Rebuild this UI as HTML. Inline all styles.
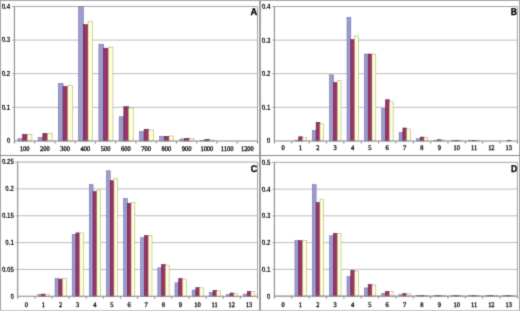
<!DOCTYPE html>
<html><head><meta charset="utf-8"><style>
html,body{margin:0;padding:0;background:#fff;width:520px;height:311px;overflow:hidden}
svg{display:block} text{text-rendering:geometricPrecision}
.yl{font-family:"Liberation Sans",sans-serif;font-size:7.7px;font-weight:bold;fill:#000;text-anchor:end;stroke:#000;stroke-width:0.0px}
.xl{font-family:"Liberation Serif",serif;font-size:7.0px;fill:#000;text-anchor:middle;stroke:#000;stroke-width:0.3px}
.lt{font-family:"Liberation Sans",sans-serif;font-size:9.8px;font-weight:bold;fill:#000;text-anchor:end;stroke:#000;stroke-width:0.3px}
</style></head><body>
<svg width="520" height="311" viewBox="0 0 520 311">
<defs><filter id="bl" x="0" y="0" width="100%" height="100%" filterUnits="userSpaceOnUse" color-interpolation-filters="sRGB"><feConvolveMatrix order="3" kernelMatrix="0.0196 0.1008 0.0196 0.1008 0.5184 0.1008 0.0196 0.1008 0.0196" divisor="1" edgeMode="duplicate"/></filter></defs><g filter="url(#bl)">
<rect x="0" y="0" width="520" height="311" fill="#fff"/>
<path d="M11.92 107.32H257.5M11.92 73.7H257.5M11.92 40.07H257.5" stroke="#bcbcbc" stroke-width="1" fill="none"/>
<path d="M11.92 6.45H257.5V140.95" stroke="#a4a4a4" stroke-width="1" fill="none"/>
<text transform="translate(10.2 143.35) scale(0.8 1)" class="yl">0</text>
<text transform="translate(10.2 109.72) scale(0.8 1)" class="yl">0.1</text>
<text transform="translate(10.2 76.1) scale(0.8 1)" class="yl">0.2</text>
<text transform="translate(10.2 42.47) scale(0.8 1)" class="yl">0.3</text>
<text transform="translate(10.2 8.85) scale(0.8 1)" class="yl">0.4</text>
<rect x="17.88" y="138.76" width="4.68" height="2.19" fill="#9c9cd2" stroke="#6a6aa0" stroke-width="0.55"/>
<rect x="22.56" y="134.39" width="4.68" height="6.56" fill="#9b3366" stroke="#5a1d3a" stroke-width="0.55"/>
<rect x="27.24" y="134.56" width="4.68" height="6.39" fill="#ffffd0" stroke="#a8a890" stroke-width="0.55"/>
<rect x="38.14" y="137.58" width="4.68" height="3.37" fill="#9c9cd2" stroke="#6a6aa0" stroke-width="0.55"/>
<rect x="42.82" y="133.38" width="4.68" height="7.57" fill="#9b3366" stroke="#5a1d3a" stroke-width="0.55"/>
<rect x="47.49" y="133.38" width="4.68" height="7.57" fill="#ffffd0" stroke="#a8a890" stroke-width="0.55"/>
<rect x="58.39" y="83.51" width="4.68" height="57.43" fill="#9c9cd2" stroke="#6a6aa0" stroke-width="0.55"/>
<rect x="63.07" y="86.54" width="4.68" height="54.41" fill="#9b3366" stroke="#5a1d3a" stroke-width="0.55"/>
<rect x="67.75" y="85.53" width="4.68" height="55.42" fill="#ffffd0" stroke="#a8a890" stroke-width="0.55"/>
<rect x="78.65" y="6.85" width="4.68" height="134.1" fill="#9c9cd2" stroke="#6a6aa0" stroke-width="0.55"/>
<rect x="83.33" y="24.67" width="4.68" height="116.28" fill="#9b3366" stroke="#5a1d3a" stroke-width="0.55"/>
<rect x="88.01" y="21.31" width="4.68" height="119.64" fill="#ffffd0" stroke="#a8a890" stroke-width="0.55"/>
<rect x="98.91" y="44.17" width="4.68" height="96.78" fill="#9c9cd2" stroke="#6a6aa0" stroke-width="0.55"/>
<rect x="103.59" y="48.21" width="4.68" height="92.74" fill="#9b3366" stroke="#5a1d3a" stroke-width="0.55"/>
<rect x="108.26" y="47.2" width="4.68" height="93.75" fill="#ffffd0" stroke="#a8a890" stroke-width="0.55"/>
<rect x="119.16" y="116.8" width="4.68" height="24.15" fill="#9c9cd2" stroke="#6a6aa0" stroke-width="0.55"/>
<rect x="123.84" y="106.72" width="4.68" height="34.23" fill="#9b3366" stroke="#5a1d3a" stroke-width="0.55"/>
<rect x="128.52" y="108.06" width="4.68" height="32.89" fill="#ffffd0" stroke="#a8a890" stroke-width="0.55"/>
<rect x="139.42" y="131.6" width="4.68" height="9.35" fill="#9c9cd2" stroke="#6a6aa0" stroke-width="0.55"/>
<rect x="144.1" y="129.25" width="4.68" height="11.7" fill="#9b3366" stroke="#5a1d3a" stroke-width="0.55"/>
<rect x="148.78" y="129.92" width="4.68" height="11.03" fill="#ffffd0" stroke="#a8a890" stroke-width="0.55"/>
<rect x="159.68" y="136.31" width="4.68" height="4.64" fill="#9c9cd2" stroke="#6a6aa0" stroke-width="0.55"/>
<rect x="164.36" y="136.31" width="4.68" height="4.64" fill="#9b3366" stroke="#5a1d3a" stroke-width="0.55"/>
<rect x="169.03" y="135.97" width="4.68" height="4.98" fill="#ffffd0" stroke="#a8a890" stroke-width="0.55"/>
<rect x="179.93" y="139" width="4.68" height="1.95" fill="#9c9cd2" stroke="#6a6aa0" stroke-width="0.55"/>
<rect x="184.61" y="138.32" width="4.68" height="2.63" fill="#9b3366" stroke="#5a1d3a" stroke-width="0.55"/>
<rect x="189.29" y="138.66" width="4.68" height="2.29" fill="#ffffd0" stroke="#a8a890" stroke-width="0.55"/>
<rect x="200.19" y="140.34" width="4.68" height="0.61" fill="#9c9cd2" stroke="#6a6aa0" stroke-width="0.55"/>
<rect x="204.87" y="139.33" width="4.68" height="1.62" fill="#9b3366" stroke="#5a1d3a" stroke-width="0.55"/>
<rect x="209.55" y="140" width="4.68" height="0.94" fill="#ffffd0" stroke="#a8a890" stroke-width="0.55"/>
<path d="M14.42 6.45V140.95H257.5M14.42 140.95v2.5M34.68 140.95v2.5M54.93 140.95v2.5M75.19 140.95v2.5M95.45 140.95v2.5M115.7 140.95v2.5M135.96 140.95v2.5M156.22 140.95v2.5M176.47 140.95v2.5M196.73 140.95v2.5M216.99 140.95v2.5M237.24 140.95v2.5M257.5 140.95v2.5" stroke="#8a8a8a" stroke-width="1.1" fill="none"/>
<text transform="translate(24.55 150.6) scale(0.92 1)" class="xl">100</text>
<text transform="translate(44.8 150.6) scale(0.92 1)" class="xl">200</text>
<text transform="translate(65.06 150.6) scale(0.92 1)" class="xl">300</text>
<text transform="translate(85.32 150.6) scale(0.92 1)" class="xl">400</text>
<text transform="translate(105.58 150.6) scale(0.92 1)" class="xl">500</text>
<text transform="translate(125.83 150.6) scale(0.92 1)" class="xl">600</text>
<text transform="translate(146.09 150.6) scale(0.92 1)" class="xl">700</text>
<text transform="translate(166.34 150.6) scale(0.92 1)" class="xl">800</text>
<text transform="translate(186.6 150.6) scale(0.92 1)" class="xl">900</text>
<text transform="translate(206.86 150.6) scale(0.92 1)" class="xl">1000</text>
<text transform="translate(227.12 150.6) scale(0.92 1)" class="xl">1100</text>
<text transform="translate(247.37 150.6) scale(0.92 1)" class="xl">1200</text>
<text transform="translate(257.1 15.2) scale(0.95 1)" class="lt">A</text>
<path d="M271.92 107.34H517.4M271.92 73.72H517.4M271.92 40.11H517.4" stroke="#bcbcbc" stroke-width="1" fill="none"/>
<path d="M271.92 6.5H517.4V140.95" stroke="#a4a4a4" stroke-width="1" fill="none"/>
<text transform="translate(270.3 143.35) scale(0.8 1)" class="yl">0</text>
<text transform="translate(270.3 109.74) scale(0.8 1)" class="yl">0.1</text>
<text transform="translate(270.3 76.12) scale(0.8 1)" class="yl">0.2</text>
<text transform="translate(270.3 42.51) scale(0.8 1)" class="yl">0.3</text>
<text transform="translate(270.3 8.9) scale(0.8 1)" class="yl">0.4</text>
<rect x="294.95" y="140.11" width="3.8" height="0.84" fill="#9c9cd2" stroke="#6a6aa0" stroke-width="0.55"/>
<rect x="298.75" y="136.74" width="3.8" height="4.21" fill="#9b3366" stroke="#5a1d3a" stroke-width="0.55"/>
<rect x="302.55" y="137.42" width="3.8" height="3.53" fill="#ffffd0" stroke="#a8a890" stroke-width="0.55"/>
<rect x="312.31" y="130.69" width="3.8" height="10.26" fill="#9c9cd2" stroke="#6a6aa0" stroke-width="0.55"/>
<rect x="316.11" y="122.29" width="3.8" height="18.66" fill="#9b3366" stroke="#5a1d3a" stroke-width="0.55"/>
<rect x="319.91" y="123.97" width="3.8" height="16.98" fill="#ffffd0" stroke="#a8a890" stroke-width="0.55"/>
<rect x="329.66" y="74.9" width="3.8" height="66.05" fill="#9c9cd2" stroke="#6a6aa0" stroke-width="0.55"/>
<rect x="333.46" y="82.63" width="3.8" height="58.32" fill="#9b3366" stroke="#5a1d3a" stroke-width="0.55"/>
<rect x="337.27" y="80.61" width="3.8" height="60.34" fill="#ffffd0" stroke="#a8a890" stroke-width="0.55"/>
<rect x="347.02" y="17.42" width="3.8" height="123.53" fill="#9c9cd2" stroke="#6a6aa0" stroke-width="0.55"/>
<rect x="350.82" y="39.6" width="3.8" height="101.35" fill="#9b3366" stroke="#5a1d3a" stroke-width="0.55"/>
<rect x="354.62" y="35.91" width="3.8" height="105.04" fill="#ffffd0" stroke="#a8a890" stroke-width="0.55"/>
<rect x="364.38" y="54.06" width="3.8" height="86.89" fill="#9c9cd2" stroke="#6a6aa0" stroke-width="0.55"/>
<rect x="368.18" y="54.06" width="3.8" height="86.89" fill="#9b3366" stroke="#5a1d3a" stroke-width="0.55"/>
<rect x="371.98" y="54.06" width="3.8" height="86.89" fill="#ffffd0" stroke="#a8a890" stroke-width="0.55"/>
<rect x="381.73" y="108.51" width="3.8" height="32.44" fill="#9c9cd2" stroke="#6a6aa0" stroke-width="0.55"/>
<rect x="385.53" y="99.77" width="3.8" height="41.18" fill="#9b3366" stroke="#5a1d3a" stroke-width="0.55"/>
<rect x="389.33" y="101.79" width="3.8" height="39.16" fill="#ffffd0" stroke="#a8a890" stroke-width="0.55"/>
<rect x="399.09" y="132.71" width="3.8" height="8.24" fill="#9c9cd2" stroke="#6a6aa0" stroke-width="0.55"/>
<rect x="402.89" y="128" width="3.8" height="12.94" fill="#9b3366" stroke="#5a1d3a" stroke-width="0.55"/>
<rect x="406.69" y="129.01" width="3.8" height="11.94" fill="#ffffd0" stroke="#a8a890" stroke-width="0.55"/>
<rect x="416.44" y="138.76" width="3.8" height="2.19" fill="#9c9cd2" stroke="#6a6aa0" stroke-width="0.55"/>
<rect x="420.24" y="137.08" width="3.8" height="3.87" fill="#9b3366" stroke="#5a1d3a" stroke-width="0.55"/>
<rect x="424.04" y="137.42" width="3.8" height="3.53" fill="#ffffd0" stroke="#a8a890" stroke-width="0.55"/>
<rect x="433.8" y="140.35" width="3.8" height="0.6" fill="#9c9cd2" stroke="#6a6aa0" stroke-width="0.55"/>
<rect x="437.6" y="139.77" width="3.8" height="1.18" fill="#9b3366" stroke="#5a1d3a" stroke-width="0.55"/>
<rect x="441.4" y="140.11" width="3.8" height="0.84" fill="#ffffd0" stroke="#a8a890" stroke-width="0.55"/>
<rect x="451.15" y="140.35" width="3.8" height="0.6" fill="#9c9cd2" stroke="#6a6aa0" stroke-width="0.55"/>
<rect x="454.95" y="140.35" width="3.8" height="0.6" fill="#9b3366" stroke="#5a1d3a" stroke-width="0.55"/>
<rect x="458.76" y="140.35" width="3.8" height="0.6" fill="#ffffd0" stroke="#a8a890" stroke-width="0.55"/>
<rect x="468.51" y="140.35" width="3.8" height="0.6" fill="#9c9cd2" stroke="#6a6aa0" stroke-width="0.55"/>
<rect x="472.31" y="140.35" width="3.8" height="0.6" fill="#9b3366" stroke="#5a1d3a" stroke-width="0.55"/>
<rect x="476.11" y="140.35" width="3.8" height="0.6" fill="#ffffd0" stroke="#a8a890" stroke-width="0.55"/>
<rect x="507.02" y="140.35" width="3.8" height="0.6" fill="#9b3366" stroke="#5a1d3a" stroke-width="0.55"/>
<path d="M274.42 6.5V140.95H517.4M274.42 140.95v2.5M291.78 140.95v2.5M309.13 140.95v2.5M326.49 140.95v2.5M343.84 140.95v2.5M361.2 140.95v2.5M378.55 140.95v2.5M395.91 140.95v2.5M413.27 140.95v2.5M430.62 140.95v2.5M447.98 140.95v2.5M465.33 140.95v2.5M482.69 140.95v2.5M500.04 140.95v2.5M517.4 140.95v2.5" stroke="#8a8a8a" stroke-width="1.1" fill="none"/>
<text transform="translate(283.1 150.2) scale(0.92 1)" class="xl">0</text>
<text transform="translate(300.45 150.2) scale(0.92 1)" class="xl">1</text>
<text transform="translate(317.81 150.2) scale(0.92 1)" class="xl">2</text>
<text transform="translate(335.17 150.2) scale(0.92 1)" class="xl">3</text>
<text transform="translate(352.52 150.2) scale(0.92 1)" class="xl">4</text>
<text transform="translate(369.88 150.2) scale(0.92 1)" class="xl">5</text>
<text transform="translate(387.23 150.2) scale(0.92 1)" class="xl">6</text>
<text transform="translate(404.59 150.2) scale(0.92 1)" class="xl">7</text>
<text transform="translate(421.94 150.2) scale(0.92 1)" class="xl">8</text>
<text transform="translate(439.3 150.2) scale(0.92 1)" class="xl">9</text>
<text transform="translate(456.65 150.2) scale(0.92 1)" class="xl">10</text>
<text transform="translate(474.01 150.2) scale(0.92 1)" class="xl">11</text>
<text transform="translate(491.37 150.2) scale(0.92 1)" class="xl">12</text>
<text transform="translate(508.72 150.2) scale(0.92 1)" class="xl">13</text>
<text transform="translate(517.1 15.2) scale(0.88 1)" class="lt">B</text>
<path d="M15.17 269.45H257.5M15.17 242.6H257.5M15.17 215.75H257.5M15.17 188.9H257.5" stroke="#bcbcbc" stroke-width="1" fill="none"/>
<path d="M15.17 162.05H257.5V296.3" stroke="#a4a4a4" stroke-width="1" fill="none"/>
<text transform="translate(13.9 298.7) scale(0.8 1)" class="yl">0</text>
<text transform="translate(13.9 271.85) scale(0.8 1)" class="yl">0.05</text>
<text transform="translate(13.9 245) scale(0.8 1)" class="yl">0.1</text>
<text transform="translate(13.9 218.15) scale(0.8 1)" class="yl">0.15</text>
<text transform="translate(13.9 191.3) scale(0.8 1)" class="yl">0.2</text>
<text transform="translate(13.9 164.45) scale(0.8 1)" class="yl">0.25</text>
<rect x="37.94" y="294.65" width="3.75" height="1.65" fill="#9c9cd2" stroke="#6a6aa0" stroke-width="0.55"/>
<rect x="41.69" y="294.12" width="3.75" height="2.19" fill="#9b3366" stroke="#5a1d3a" stroke-width="0.55"/>
<rect x="45.44" y="294.12" width="3.75" height="2.19" fill="#ffffd0" stroke="#a8a890" stroke-width="0.55"/>
<rect x="55.07" y="278.54" width="3.75" height="17.76" fill="#9c9cd2" stroke="#6a6aa0" stroke-width="0.55"/>
<rect x="58.82" y="279.08" width="3.75" height="17.22" fill="#9b3366" stroke="#5a1d3a" stroke-width="0.55"/>
<rect x="62.57" y="278.54" width="3.75" height="17.76" fill="#ffffd0" stroke="#a8a890" stroke-width="0.55"/>
<rect x="72.2" y="234.51" width="3.75" height="61.79" fill="#9c9cd2" stroke="#6a6aa0" stroke-width="0.55"/>
<rect x="75.95" y="232.9" width="3.75" height="63.4" fill="#9b3366" stroke="#5a1d3a" stroke-width="0.55"/>
<rect x="79.7" y="232.9" width="3.75" height="63.4" fill="#ffffd0" stroke="#a8a890" stroke-width="0.55"/>
<rect x="89.33" y="184.57" width="3.75" height="111.73" fill="#9c9cd2" stroke="#6a6aa0" stroke-width="0.55"/>
<rect x="93.08" y="191.55" width="3.75" height="104.75" fill="#9b3366" stroke="#5a1d3a" stroke-width="0.55"/>
<rect x="96.83" y="189.94" width="3.75" height="106.36" fill="#ffffd0" stroke="#a8a890" stroke-width="0.55"/>
<rect x="106.46" y="170.77" width="3.75" height="125.53" fill="#9c9cd2" stroke="#6a6aa0" stroke-width="0.55"/>
<rect x="110.21" y="180.75" width="3.75" height="115.55" fill="#9b3366" stroke="#5a1d3a" stroke-width="0.55"/>
<rect x="113.96" y="178.66" width="3.75" height="117.64" fill="#ffffd0" stroke="#a8a890" stroke-width="0.55"/>
<rect x="123.59" y="198.53" width="3.75" height="97.77" fill="#9c9cd2" stroke="#6a6aa0" stroke-width="0.55"/>
<rect x="127.34" y="203.36" width="3.75" height="92.94" fill="#9b3366" stroke="#5a1d3a" stroke-width="0.55"/>
<rect x="131.1" y="202.29" width="3.75" height="94.01" fill="#ffffd0" stroke="#a8a890" stroke-width="0.55"/>
<rect x="140.72" y="237.73" width="3.75" height="58.57" fill="#9c9cd2" stroke="#6a6aa0" stroke-width="0.55"/>
<rect x="144.47" y="235.58" width="3.75" height="60.72" fill="#9b3366" stroke="#5a1d3a" stroke-width="0.55"/>
<rect x="148.23" y="235.58" width="3.75" height="60.72" fill="#ffffd0" stroke="#a8a890" stroke-width="0.55"/>
<rect x="157.85" y="267.8" width="3.75" height="28.5" fill="#9c9cd2" stroke="#6a6aa0" stroke-width="0.55"/>
<rect x="161.61" y="264.58" width="3.75" height="31.72" fill="#9b3366" stroke="#5a1d3a" stroke-width="0.55"/>
<rect x="165.36" y="265.12" width="3.75" height="31.18" fill="#ffffd0" stroke="#a8a890" stroke-width="0.55"/>
<rect x="174.98" y="282.84" width="3.75" height="13.46" fill="#9c9cd2" stroke="#6a6aa0" stroke-width="0.55"/>
<rect x="178.74" y="278.54" width="3.75" height="17.76" fill="#9b3366" stroke="#5a1d3a" stroke-width="0.55"/>
<rect x="182.49" y="279.08" width="3.75" height="17.22" fill="#ffffd0" stroke="#a8a890" stroke-width="0.55"/>
<rect x="192.12" y="290.09" width="3.75" height="6.21" fill="#9c9cd2" stroke="#6a6aa0" stroke-width="0.55"/>
<rect x="195.87" y="287.67" width="3.75" height="8.63" fill="#9b3366" stroke="#5a1d3a" stroke-width="0.55"/>
<rect x="199.62" y="287.89" width="3.75" height="8.41" fill="#ffffd0" stroke="#a8a890" stroke-width="0.55"/>
<rect x="209.25" y="292.5" width="3.75" height="3.8" fill="#9c9cd2" stroke="#6a6aa0" stroke-width="0.55"/>
<rect x="213" y="290.36" width="3.75" height="5.94" fill="#9b3366" stroke="#5a1d3a" stroke-width="0.55"/>
<rect x="216.75" y="290.89" width="3.75" height="5.41" fill="#ffffd0" stroke="#a8a890" stroke-width="0.55"/>
<rect x="226.38" y="294.65" width="3.75" height="1.65" fill="#9c9cd2" stroke="#6a6aa0" stroke-width="0.55"/>
<rect x="230.13" y="293.04" width="3.75" height="3.26" fill="#9b3366" stroke="#5a1d3a" stroke-width="0.55"/>
<rect x="233.88" y="293.58" width="3.75" height="2.72" fill="#ffffd0" stroke="#a8a890" stroke-width="0.55"/>
<rect x="243.51" y="294.12" width="3.75" height="2.19" fill="#9c9cd2" stroke="#6a6aa0" stroke-width="0.55"/>
<rect x="247.26" y="291.43" width="3.75" height="4.87" fill="#9b3366" stroke="#5a1d3a" stroke-width="0.55"/>
<rect x="251.01" y="291.54" width="3.75" height="4.76" fill="#ffffd0" stroke="#a8a890" stroke-width="0.55"/>
<path d="M17.67 162.05V296.3H257.5M17.67 296.3v2.5M34.8 296.3v2.5M51.93 296.3v2.5M69.06 296.3v2.5M86.19 296.3v2.5M103.32 296.3v2.5M120.45 296.3v2.5M137.58 296.3v2.5M154.72 296.3v2.5M171.85 296.3v2.5M188.98 296.3v2.5M206.11 296.3v2.5M223.24 296.3v2.5M240.37 296.3v2.5M257.5 296.3v2.5" stroke="#8a8a8a" stroke-width="1.1" fill="none"/>
<text transform="translate(26.24 306.7) scale(0.92 1)" class="xl">0</text>
<text transform="translate(43.37 306.7) scale(0.92 1)" class="xl">1</text>
<text transform="translate(60.5 306.7) scale(0.92 1)" class="xl">2</text>
<text transform="translate(77.63 306.7) scale(0.92 1)" class="xl">3</text>
<text transform="translate(94.76 306.7) scale(0.92 1)" class="xl">4</text>
<text transform="translate(111.89 306.7) scale(0.92 1)" class="xl">5</text>
<text transform="translate(129.02 306.7) scale(0.92 1)" class="xl">6</text>
<text transform="translate(146.15 306.7) scale(0.92 1)" class="xl">7</text>
<text transform="translate(163.28 306.7) scale(0.92 1)" class="xl">8</text>
<text transform="translate(180.41 306.7) scale(0.92 1)" class="xl">9</text>
<text transform="translate(197.54 306.7) scale(0.92 1)" class="xl">10</text>
<text transform="translate(214.67 306.7) scale(0.92 1)" class="xl">11</text>
<text transform="translate(231.8 306.7) scale(0.92 1)" class="xl">12</text>
<text transform="translate(248.93 306.7) scale(0.92 1)" class="xl">13</text>
<text transform="translate(257.2 171.6) scale(0.92 1)" class="lt">C</text>
<path d="M271.92 269.35H517.4M271.92 242.6H517.4M271.92 215.85H517.4M271.92 189.1H517.4" stroke="#bcbcbc" stroke-width="1" fill="none"/>
<path d="M271.92 162.35H517.4V296.1" stroke="#a4a4a4" stroke-width="1" fill="none"/>
<text transform="translate(270.3 298.5) scale(0.8 1)" class="yl">0</text>
<text transform="translate(270.3 271.75) scale(0.8 1)" class="yl">0.1</text>
<text transform="translate(270.3 245) scale(0.8 1)" class="yl">0.2</text>
<text transform="translate(270.3 218.25) scale(0.8 1)" class="yl">0.3</text>
<text transform="translate(270.3 191.5) scale(0.8 1)" class="yl">0.4</text>
<text transform="translate(270.3 164.75) scale(0.8 1)" class="yl">0.5</text>
<rect x="294.95" y="240.62" width="3.8" height="55.48" fill="#9c9cd2" stroke="#6a6aa0" stroke-width="0.55"/>
<rect x="298.75" y="240.62" width="3.8" height="55.48" fill="#9b3366" stroke="#5a1d3a" stroke-width="0.55"/>
<rect x="302.55" y="240.62" width="3.8" height="55.48" fill="#ffffd0" stroke="#a8a890" stroke-width="0.55"/>
<rect x="312.31" y="184.72" width="3.8" height="111.38" fill="#9c9cd2" stroke="#6a6aa0" stroke-width="0.55"/>
<rect x="316.11" y="202.64" width="3.8" height="93.46" fill="#9b3366" stroke="#5a1d3a" stroke-width="0.55"/>
<rect x="319.91" y="199.16" width="3.8" height="96.94" fill="#ffffd0" stroke="#a8a890" stroke-width="0.55"/>
<rect x="329.66" y="235.81" width="3.8" height="60.29" fill="#9c9cd2" stroke="#6a6aa0" stroke-width="0.55"/>
<rect x="333.46" y="233.4" width="3.8" height="62.7" fill="#9b3366" stroke="#5a1d3a" stroke-width="0.55"/>
<rect x="337.27" y="233.67" width="3.8" height="62.43" fill="#ffffd0" stroke="#a8a890" stroke-width="0.55"/>
<rect x="347.02" y="276.47" width="3.8" height="19.63" fill="#9c9cd2" stroke="#6a6aa0" stroke-width="0.55"/>
<rect x="350.82" y="270.32" width="3.8" height="25.78" fill="#9b3366" stroke="#5a1d3a" stroke-width="0.55"/>
<rect x="354.62" y="271.12" width="3.8" height="24.98" fill="#ffffd0" stroke="#a8a890" stroke-width="0.55"/>
<rect x="364.38" y="287.97" width="3.8" height="8.13" fill="#9c9cd2" stroke="#6a6aa0" stroke-width="0.55"/>
<rect x="368.18" y="284.5" width="3.8" height="11.61" fill="#9b3366" stroke="#5a1d3a" stroke-width="0.55"/>
<rect x="371.98" y="285.03" width="3.8" height="11.07" fill="#ffffd0" stroke="#a8a890" stroke-width="0.55"/>
<rect x="381.73" y="293.32" width="3.8" height="2.78" fill="#9c9cd2" stroke="#6a6aa0" stroke-width="0.55"/>
<rect x="385.53" y="291.45" width="3.8" height="4.65" fill="#9b3366" stroke="#5a1d3a" stroke-width="0.55"/>
<rect x="389.33" y="291.45" width="3.8" height="4.65" fill="#ffffd0" stroke="#a8a890" stroke-width="0.55"/>
<rect x="399.09" y="294.66" width="3.8" height="1.44" fill="#9c9cd2" stroke="#6a6aa0" stroke-width="0.55"/>
<rect x="402.89" y="293.59" width="3.8" height="2.51" fill="#9b3366" stroke="#5a1d3a" stroke-width="0.55"/>
<rect x="406.69" y="293.59" width="3.8" height="2.51" fill="#ffffd0" stroke="#a8a890" stroke-width="0.55"/>
<rect x="416.44" y="295.5" width="3.8" height="0.6" fill="#9c9cd2" stroke="#6a6aa0" stroke-width="0.55"/>
<rect x="420.24" y="295.46" width="3.8" height="0.64" fill="#9b3366" stroke="#5a1d3a" stroke-width="0.55"/>
<rect x="424.04" y="295.5" width="3.8" height="0.6" fill="#ffffd0" stroke="#a8a890" stroke-width="0.55"/>
<rect x="433.8" y="295.5" width="3.8" height="0.6" fill="#9c9cd2" stroke="#6a6aa0" stroke-width="0.55"/>
<rect x="437.6" y="295.5" width="3.8" height="0.6" fill="#9b3366" stroke="#5a1d3a" stroke-width="0.55"/>
<rect x="441.4" y="295.5" width="3.8" height="0.6" fill="#ffffd0" stroke="#a8a890" stroke-width="0.55"/>
<rect x="451.15" y="295.5" width="3.8" height="0.6" fill="#9c9cd2" stroke="#6a6aa0" stroke-width="0.55"/>
<rect x="454.95" y="295.5" width="3.8" height="0.6" fill="#9b3366" stroke="#5a1d3a" stroke-width="0.55"/>
<rect x="458.76" y="295.5" width="3.8" height="0.6" fill="#ffffd0" stroke="#a8a890" stroke-width="0.55"/>
<rect x="468.51" y="295.5" width="3.8" height="0.6" fill="#9c9cd2" stroke="#6a6aa0" stroke-width="0.55"/>
<rect x="472.31" y="295.5" width="3.8" height="0.6" fill="#9b3366" stroke="#5a1d3a" stroke-width="0.55"/>
<rect x="476.11" y="295.5" width="3.8" height="0.6" fill="#ffffd0" stroke="#a8a890" stroke-width="0.55"/>
<rect x="485.87" y="295.5" width="3.8" height="0.6" fill="#9c9cd2" stroke="#6a6aa0" stroke-width="0.55"/>
<rect x="489.67" y="295.5" width="3.8" height="0.6" fill="#9b3366" stroke="#5a1d3a" stroke-width="0.55"/>
<rect x="493.47" y="295.5" width="3.8" height="0.6" fill="#ffffd0" stroke="#a8a890" stroke-width="0.55"/>
<rect x="503.22" y="295.5" width="3.8" height="0.6" fill="#9c9cd2" stroke="#6a6aa0" stroke-width="0.55"/>
<rect x="507.02" y="295.5" width="3.8" height="0.6" fill="#9b3366" stroke="#5a1d3a" stroke-width="0.55"/>
<rect x="510.82" y="295.5" width="3.8" height="0.6" fill="#ffffd0" stroke="#a8a890" stroke-width="0.55"/>
<path d="M274.42 162.35V296.1H517.4M274.42 296.1v2.5M291.78 296.1v2.5M309.13 296.1v2.5M326.49 296.1v2.5M343.84 296.1v2.5M361.2 296.1v2.5M378.55 296.1v2.5M395.91 296.1v2.5M413.27 296.1v2.5M430.62 296.1v2.5M447.98 296.1v2.5M465.33 296.1v2.5M482.69 296.1v2.5M500.04 296.1v2.5M517.4 296.1v2.5" stroke="#8a8a8a" stroke-width="1.1" fill="none"/>
<text transform="translate(283.1 306.7) scale(0.92 1)" class="xl">0</text>
<text transform="translate(300.45 306.7) scale(0.92 1)" class="xl">1</text>
<text transform="translate(317.81 306.7) scale(0.92 1)" class="xl">2</text>
<text transform="translate(335.17 306.7) scale(0.92 1)" class="xl">3</text>
<text transform="translate(352.52 306.7) scale(0.92 1)" class="xl">4</text>
<text transform="translate(369.88 306.7) scale(0.92 1)" class="xl">5</text>
<text transform="translate(387.23 306.7) scale(0.92 1)" class="xl">6</text>
<text transform="translate(404.59 306.7) scale(0.92 1)" class="xl">7</text>
<text transform="translate(421.94 306.7) scale(0.92 1)" class="xl">8</text>
<text transform="translate(439.3 306.7) scale(0.92 1)" class="xl">9</text>
<text transform="translate(456.65 306.7) scale(0.92 1)" class="xl">10</text>
<text transform="translate(474.01 306.7) scale(0.92 1)" class="xl">11</text>
<text transform="translate(491.37 306.7) scale(0.92 1)" class="xl">12</text>
<text transform="translate(508.72 306.7) scale(0.92 1)" class="xl">13</text>
<text transform="translate(517.2 171.6) scale(0.88 1)" class="lt">D</text>
<path d="M0.5 0V311M519.5 0V311M0 0.5H520" stroke="#a8a8a8" stroke-width="1" fill="none"/>
<path d="M0 310.5H520" stroke="#c8c8c8" stroke-width="1" fill="none"/>
<path d="M260 0V311" stroke="#a0a0a0" stroke-width="2" fill="none"/>
<path d="M0 155.5H520" stroke="#888" stroke-width="1" fill="none"/>
</g></svg>
</body></html>
